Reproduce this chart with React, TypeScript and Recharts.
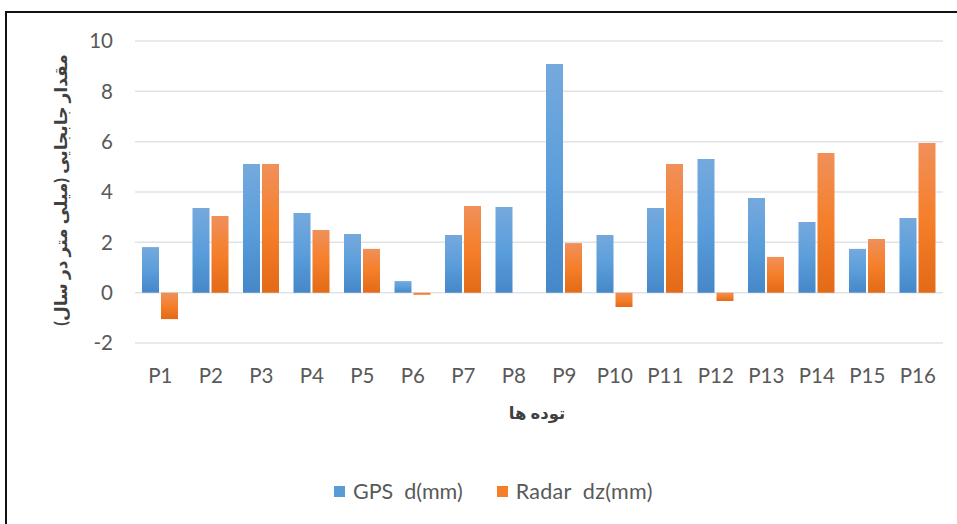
import React from 'react';
import { BarChart, Bar, XAxis, YAxis, CartesianGrid, Legend } from 'recharts';

const points = ['P1', 'P2', 'P3', 'P4', 'P5', 'P6', 'P7', 'P8', 'P9', 'P10', 'P11', 'P12', 'P13', 'P14', 'P15', 'P16'];
const gpsValues = [1.81, 3.36, 5.11, 3.17, 2.33, 0.46, 2.29, 3.4, 9.09, 2.29, 3.36, 5.31, 3.76, 2.81, 1.74, 2.97];
const radarValues = [-1.05, 3.05, 5.11, 2.49, 1.74, -0.08, 3.44, 0, 1.97, -0.57, 5.11, -0.33, 1.42, 5.55, 2.13, 5.95];
const yTicks = [-2, 0, 2, 4, 6, 8, 10];

const data = points.map((name, i) => ({ name, gps: gpsValues[i], radar: radarValues[i] }));

const font = "Lato, 'DejaVu Sans', sans-serif";

const LegendContent = () => (
  <div style={{ display: 'flex', alignItems: 'center', fontFamily: font, fontSize: 21.5, color: '#595959', whiteSpace: 'pre' }}>
    <span style={{ width: 11, height: 11, background: '#5b9bd5', display: 'inline-block', marginRight: 8 }} />
    <span>GPS  d(mm)</span>
    <span style={{ width: 11, height: 11, background: '#f47f2a', display: 'inline-block', marginLeft: 34, marginRight: 8 }} />
    <span style={{ letterSpacing: 0.3 }}>Radar  dz(mm)</span>
  </div>
);

const App: React.FC = () => {
  return (
    <div style={{ position: 'absolute', left: 0, top: 0, width: 957, height: 524, overflow: 'hidden', background: '#fff' }}>
      <div style={{ position: 'absolute', left: 5, top: 11, width: 960, height: 520, borderLeft: '2px solid #111', borderTop: '2px solid #111' }} />
      <div style={{ position: 'absolute', left: 0, top: 0 }}>
        <BarChart
          width={957}
          height={524}
          data={data}
          margin={{ top: 41, right: 14, left: 0, bottom: 125 }}
          barSize={17}
          barGap={2}
        >
          <defs>
            <linearGradient id="gpsGrad" x1="0" y1="0" x2="0" y2="1">
              <stop offset="0%" stopColor="#75a9dd" />
              <stop offset="50%" stopColor="#5b9edb" />
              <stop offset="100%" stopColor="#4587c8" />
            </linearGradient>
            <linearGradient id="radarGrad" x1="0" y1="0" x2="0" y2="1">
              <stop offset="0%" stopColor="#f0905a" />
              <stop offset="50%" stopColor="#f57f2a" />
              <stop offset="100%" stopColor="#e36a17" />
            </linearGradient>
          </defs>
          <CartesianGrid vertical={false} stroke="#dfe3e8" strokeWidth={1.5} />
          <XAxis
            dataKey="name"
            axisLine={false}
            tickLine={false}
            height={30}
            tickMargin={19}
            interval={0}
            tick={{ fill: '#595959', fontSize: 20.5, fontFamily: font }}
          />
          <YAxis
            domain={[-2, 10]}
            ticks={yTicks}
            width={135}
            axisLine={false}
            tickLine={false}
            tickMargin={16}
            tick={{ fill: '#595959', fontSize: 20.5, fontFamily: font }}
          />
          <Legend
            layout="vertical"
            align="center"
            verticalAlign="bottom"
            content={LegendContent}
            wrapperStyle={{ position: 'absolute', left: 334, top: 478, width: 'auto' }}
          />
          <Bar dataKey="gps" name="GPS  d(mm)" fill="url(#gpsGrad)" isAnimationActive={false} />
          <Bar dataKey="radar" name="Radar  dz(mm)" fill="url(#radarGrad)" isAnimationActive={false} />
          <text
            x={60}
            y={190}
            transform="rotate(-90 60 190)"
            textAnchor="middle"
            dominantBaseline="central"
            fontFamily={font}
            fontWeight="bold"
            fontSize={17}
            fill="#404040"
          >
            مقدار جابجایی (میلی متر در سال)
          </text>
          <text
            x={537}
            y={413}
            textAnchor="middle"
            dominantBaseline="central"
            fontFamily={font}
            fontWeight="bold"
            fontSize={16.5}
            fill="#404040"
          >
            توده ها
          </text>
        </BarChart>
      </div>
    </div>
  );
};

export default App;
